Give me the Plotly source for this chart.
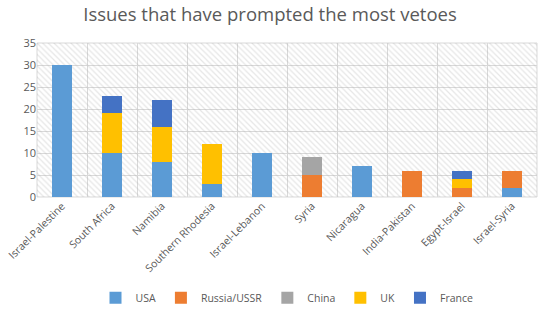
import plotly.graph_objects as go

categories = ["Israel-Palestine", "South Africa", "Namibia", "Southern Rhodesia", "Israel-Lebanon",
              "Syria", "Nicaragua", "India-Pakistan", "Egypt-Israel", "Israel-Syria"]
usa    = [30, 10, 8, 3, 10, 0, 7, 0, 0, 2]
russia = [0, 0, 0, 0, 0, 5, 0, 6, 2, 4]
china  = [0, 0, 0, 0, 0, 4, 0, 0, 0, 0]
uk     = [0, 9, 8, 9, 0, 0, 0, 0, 2, 0]
france = [0, 4, 6, 0, 0, 0, 0, 0, 2, 0]

series = [("USA", usa, "#5B9BD5"), ("Russia/USSR", russia, "#ED7D31"),
          ("China", china, "#A5A5A5"), ("UK", uk, "#FFC000"), ("France", france, "#4472C4")]

fig = go.Figure()
# hatched plot background on the base (linear) x axis
fig.add_trace(go.Bar(x=[0.5], y=[35], width=[1], xaxis="x", showlegend=False, hoverinfo="skip",
                     marker=dict(color="rgba(0,0,0,0)", line=dict(width=0),
                                 pattern=dict(shape="\\", fgcolor="rgba(170,170,170,0.6)",
                                              bgcolor="rgba(0,0,0,0)", size=4, solidity=0.3))))
for name, vals, col in series:
    fig.add_trace(go.Bar(x=categories, y=vals, name=name, xaxis="x2",
                         marker=dict(color=col, line=dict(width=0))))

fig.update_layout(
    barmode="stack", bargap=0.6,
    width=540, height=323,
    margin=dict(l=37, r=3, t=43, b=126),
    paper_bgcolor="white", plot_bgcolor="white",
    font=dict(family="Open Sans, Liberation Sans, sans-serif", color="#595959", size=10),
    title=dict(text="Issues that have prompted the most vetoes", x=0.5, xanchor="center",
               y=0.955, yanchor="middle", font=dict(size=18.5, color="#595959")),
    xaxis=dict(range=[0, 1], showgrid=True, gridcolor="#d9d9d9", dtick=0.1,
               showticklabels=False, zeroline=False, showline=False, ticks=""),
    xaxis2=dict(type="category", overlaying="x", side="bottom", tickangle=-45, showgrid=False,
                tickfont=dict(size=10.5), showline=False, ticks=""),
    yaxis=dict(range=[0, 35], dtick=5, showgrid=True, gridcolor="#d9d9d9", zeroline=False,
               tickfont=dict(size=11), showline=False, ticks=""),
    legend=dict(orientation="h", x=0.5, xanchor="center", y=-0.655, yanchor="middle",
                font=dict(size=10.5), traceorder="normal", itemwidth=30),
    shapes=[dict(type="rect", xref="paper", yref="paper", x0=0, x1=1, y0=0, y1=1,
                 line=dict(color="#d9d9d9", width=1), layer="below")],
)
fig.write_html("out.html")
